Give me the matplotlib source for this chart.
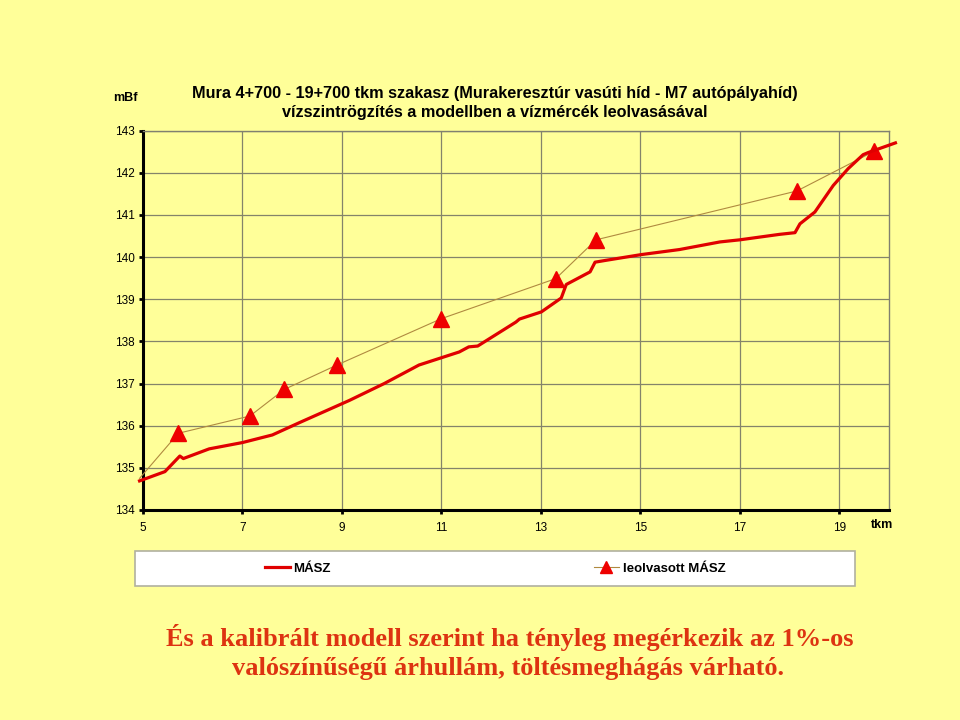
import matplotlib
matplotlib.use("Agg")
import matplotlib.pyplot as plt
from matplotlib.lines import Line2D
from matplotlib.patches import Rectangle

plt.rcParams['font.family'] = ['Liberation Sans', 'DejaVu Sans']

# MÁSZ (modelled water level) along the river, tkm -> mBf
masz_km  = [4.93, 5.44, 5.74, 5.81, 6.33, 7.00, 7.60, 8.14, 9.15, 9.85, 10.55, 11.36, 11.55,
            11.73, 12.50, 12.57, 13.01, 13.41, 13.51, 13.99, 14.09, 14.29, 15.02, 15.79, 16.60,
            17.00, 17.80, 18.11, 18.21, 18.51, 18.88, 19.18, 19.48, 19.58, 20.13]
masz_lvl = [134.69, 134.91, 135.28, 135.22, 135.45, 135.60, 135.78, 136.07, 136.60, 137.00,
            137.44, 137.75, 137.87, 137.89, 138.46, 138.53, 138.70, 139.03, 139.35, 139.65,
            139.88, 139.92, 140.06, 140.18, 140.36, 140.41, 140.54, 140.58, 140.79, 141.07,
            141.70, 142.10, 142.43, 142.48, 142.71]

# leolvasott MÁSZ (gauge readings)
leo_km  = [4.93, 5.71, 7.15, 7.84, 8.90, 11.00, 13.30, 14.11, 18.15, 19.70]
leo_lvl = [134.75, 135.82, 136.23, 136.86, 137.44, 138.54, 139.49, 140.41, 141.57, 142.51]

xticks = [5, 7, 9, 11, 13, 15, 17, 19]
yticks = list(range(134, 144))

bg = "#FFFF99"
fig = plt.figure(figsize=(9.6, 7.2), dpi=100, facecolor=bg)
ax = fig.add_axes([0.149, 0.2917, 0.777, 0.5268], facecolor=bg)

ax.plot(leo_km, leo_lvl, color="#B08A40", linewidth=0.8, zorder=3, clip_on=False)
ax.plot(leo_km[1:], leo_lvl[1:], linestyle="none", marker="^", markersize=11,
        color="#EE0000", zorder=4, clip_on=False)
ax.plot(masz_km, masz_lvl, color="#E00000", linewidth=2.3, zorder=5, clip_on=False,
        solid_joinstyle="round")

ax.set_xlim(5, 20)
ax.set_ylim(134, 143)
ax.set_xticks(xticks)
ax.set_yticks(yticks)
ax.grid(True, color="#84846A", linewidth=0.9)
ax.set_axisbelow(True)
ax.tick_params(labelsize=8.5, length=3, width=2, direction="out", pad=3)
ax.tick_params(axis="x", pad=6)

for s in ["left", "bottom"]:
    ax.spines[s].set_linewidth(2.2)
    ax.spines[s].set_color("black")
for s in ["top", "right"]:
    ax.spines[s].set_linewidth(1)
    ax.spines[s].set_color("#808070")

fig.text(0.5156, 0.8708, "Mura 4+700 - 19+700 tkm szakasz (Murakeresztúr vasúti híd - M7 autópályahíd)",
         ha="center", va="center", fontsize=11.7, fontweight="bold")
fig.text(0.5156, 0.8431, "vízszintrögzítés a modellben a vízmércék leolvasásával",
         ha="center", va="center", fontsize=11.7, fontweight="bold")
fig.text(0.131, 0.864, "mBf", ha="center", va="center", fontsize=9, fontweight="bold")
fig.text(0.919, 0.271, "tkm", ha="center", va="center", fontsize=9, fontweight="bold")

# legend box
fig.patches.append(Rectangle((0.1406, 0.1861), 0.75, 0.0486, transform=fig.transFigure,
                             facecolor="white", edgecolor="#B0B0A0", linewidth=1.2))
handles = [Line2D([], [], color="#E00000", linewidth=2.3),
           Line2D([], [], color="#B08A40", linewidth=0.8, marker="^", markersize=9,
                  markerfacecolor="#EE0000", markeredgecolor="#EE0000")]
fig.legend(handles, ["MÁSZ", "leolvasott MÁSZ"], ncol=2, frameon=False,
           loc="center", bbox_to_anchor=(0.5156, 0.2104),
           prop={"weight": "bold", "size": 9.5}, handlelength=1.9, handletextpad=0.3,
           columnspacing=19.9)

red = "#DD3311"
fig.text(0.531, 0.115, "És a kalibrált modell szerint ha tényleg megérkezik az 1%-os",
         ha="center", va="center", fontsize=19, fontweight="bold", color=red,
         family=["Liberation Serif", "DejaVu Serif"])
fig.text(0.529, 0.071, "valószínűségű árhullám, töltésmeghágás várható.",
         ha="center", va="center", fontsize=19, fontweight="bold", color=red,
         family=["Liberation Serif", "DejaVu Serif"])

fig.savefig("out.png", dpi=100, facecolor=bg)
